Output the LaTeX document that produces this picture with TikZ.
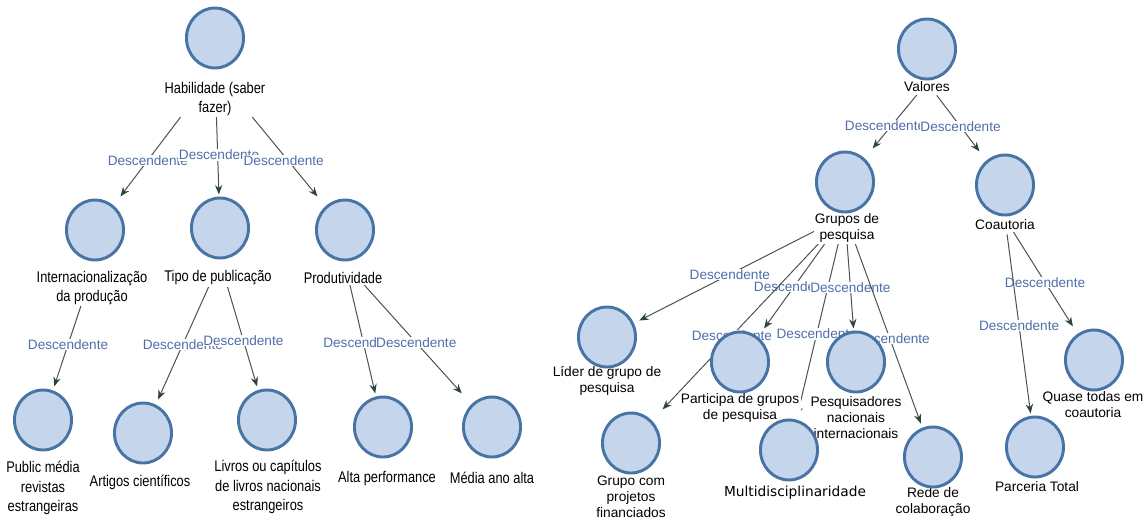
\documentclass[tikz,border=0pt]{standalone}
\usepackage{fontspec}
\setmainfont{Liberation Sans}
\newfontfamily\narrowfont{Liberation Sans}[FakeStretch=0.83]
\newfontfamily\widefont{DejaVu Sans}
\usetikzlibrary{arrows.meta}
\pgfdeclarelayer{background}
\pgfsetlayers{background,main}

\definecolor{discblue}{RGB}{196,213,236}
\definecolor{ringblue}{RGB}{72,115,165}
\definecolor{linegray}{RGB}{80,80,80}
\definecolor{tipgreen}{RGB}{45,70,60}
\definecolor{lblblue}{RGB}{80,110,170}

\tikzset{
  concept/.style={rectangle, inner sep=0pt, minimum width=48pt, minimum height=50pt,
    path picture={\draw[line width=2.2pt, draw=ringblue, fill=discblue]
      (path picture bounding box.center) ellipse (21.4pt and 22.5pt);}},
  ltext/.style={fill=white, inner sep=1pt, align=center,
    font=\narrowfont\fontsize{11.6}{14.6}\selectfont},
  rtext/.style={fill=white, inner sep=1pt, align=center,
    font=\fontsize{10.3}{12}\selectfont},
  desc/.style={draw=linegray, line width=0.75pt, shorten <=12pt,
    -{Stealth[length=7pt,width=5.5pt,color=tipgreen]}},
  elbl/.style={fill=white, inner sep=0.5pt, text=lblblue,
    font=\fontsize{10.2}{12}\selectfont}
}

\begin{document}
\begin{tikzpicture}[x=0.75pt,y=0.75pt,yscale=-1,xscale=1]
\useasboundingbox (0,0) rectangle (1147,519);

%Shape: Circle -- left tree
\node[concept] (hab) at (215,38) {};
\node[concept] (int) at (95,230) {};
\node[concept] (tipo) at (220,228) {};
\node[concept] (prod) at (345,230) {};
\node[concept] (pub) at (43,420) {};
\node[concept] (art) at (143,433) {};
\node[concept] (liv) at (267,420) {};
\node[concept] (alta) at (383,427) {};
\node[concept] (media) at (492,427) {};

%Shape: Circle -- right tree
\node[concept] (val) at (927,49) {};
\node[concept] (grp) at (845,182) {};
\node[concept] (coa) at (1005,185) {};
\node[concept] (lid) at (607,337) {};
\node[concept] (par) at (740,362) {};
\node[concept] (gcp) at (631,443) {};
\node[concept] (mul) at (789,450) {};
\node[concept] (pes) at (856,362) {};
\node[concept] (rede) at (933,457) {};
\node[concept] (qua) at (1094,360) {};
\node[concept] (parc) at (1035,447) {};

\begin{pgfonlayer}{background}
%Straight Lines
\draw[desc] (hab.south) -- node[elbl,pos=0.71]{Descendente} (int);
\draw[desc] (hab.south) -- node[elbl,pos=0.68,xshift=1]{Descendente} (tipo);
\draw[desc] (hab.south) -- node[elbl,pos=0.71,xshift=-3]{Descendente} (prod);
\draw[desc] (int.south) -- node[elbl,pos=0.66]{Descendente} (pub);
\draw[desc] (tipo.south) -- node[elbl,pos=0.6]{Descendente} (art);
\draw[desc] (tipo.south) -- node[elbl,pos=0.63]{Descendente} (liv);
\draw[desc] (prod.south) -- node[elbl,pos=0.61]{Descendente} (alta);
\draw[desc] (prod.south) -- node[elbl,pos=0.61]{Descendente} (media);
%Straight Lines
\draw[desc] (val.south) -- node[elbl,pos=0.65,xshift=-5]{Descendente} (grp);
\draw[desc] (val.south) -- node[elbl,pos=0.64]{Descendente} (coa);
\draw[desc] (grp.south) -- node[elbl,pos=0.56]{Descendente} (lid);
\draw[desc] (grp.south) -- node[elbl,pos=0.63]{Descendente} (par);
\draw[desc] (grp.south) -- node[elbl,pos=0.62]{Descendente} (gcp);
\draw[desc] (grp.south) -- node[elbl,pos=0.59]{Descendente} (mul);
\draw[desc] (grp.south) -- node[elbl,pos=0.64]{Descendente} (pes);
\draw[desc] (grp.south) -- node[elbl,pos=0.59]{Descendente} (rede);
\draw[desc] (coa.south) -- node[elbl,pos=0.59]{Descendente} (qua);
\draw[desc] (coa.south) -- node[elbl,pos=0.55]{Descendente} (parc);

% Text Node -- left tree
\node[ltext] (habT) at (215,99) {Habilidade (saber\\fazer)};
\node[ltext] (intT) at (92,288) {Internacionalização\\da produção};
\node[ltext] (tipoT) at (218,278) {Tipo de publicação};
\node[ltext] (prodT) at (343,278) {Produtividade};
\node[ltext] (pubT) at (43,488) {Public média\\revistas\\estrangeiras};
\node[ltext] (artT) at (140,482) {Artigos científicos};
\node[ltext] (livT) at (268,487) {Livros ou capítulos\\de livros nacionais\\estrangeiros};
\node[ltext] (altaT) at (387,478) {Alta performance};
\node[ltext] (mediaT) at (492,478) {Média ano alta};

% Text Node -- right tree
\node[rtext] (valT) at (927,87) {Valores};
\node[rtext] (grpT) at (847,228) {Grupos de\\pesquisa};
\node[rtext] (coaT) at (1005,225) {Coautoria};
\node[rtext] (lidT) at (607,381) {Líder de grupo de\\pesquisa};
\node[rtext] (parT) at (740,408) {Participa de grupos\\de pesquisa};
\node[rtext] (gcpT) at (631,497) {Grupo com\\projetos\\financiados};
\node[rtext,font=\widefont\fontsize{10.3}{12}\selectfont] (mulT) at (795,493) {Multidisciplinaridade};
\node[rtext] (pesT) at (856,418) {Pesquisadores\\nacionais\\internacionais};
\node[rtext] (redeT) at (933,502) {Rede de\\colaboração};
\node[rtext] (quaT) at (1093,405) {Quase todas em\\coautoria};
\node[rtext] (parcT) at (1037,487) {Parceria Total};
\end{pgfonlayer}

\end{tikzpicture}
\end{document}
